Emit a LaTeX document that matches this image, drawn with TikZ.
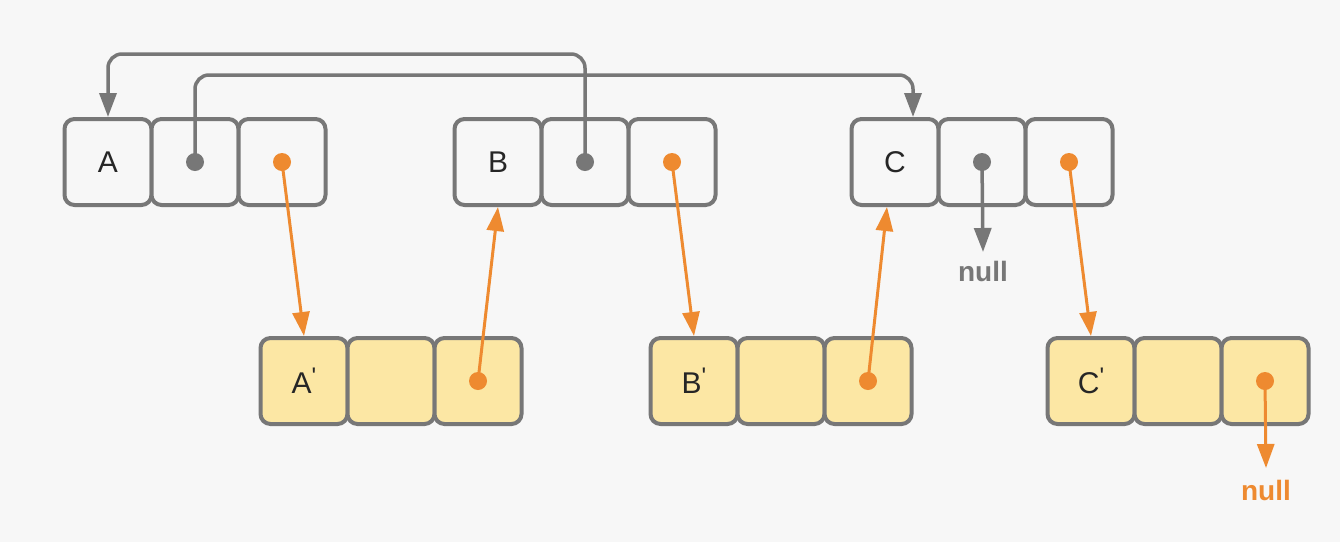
\documentclass[tikz,border=0pt]{standalone}
\usepackage{fontspec}
\setmainfont{Liberation Sans}
\usetikzlibrary{arrows.meta}
\definecolor{bg}{HTML}{F7F7F7}
\definecolor{edge}{HTML}{777777}
\definecolor{org}{HTML}{EE8A30}
\definecolor{yel}{HTML}{FCE7A4}
\newcommand{\pr}{\raisebox{0.30em}{\fontsize{24}{24}\selectfont\textquotesingle}}
\begin{document}
\begin{tikzpicture}[x=1pt,y=-1pt,
  cell/.style={draw=edge, line width=4pt, rounded corners=10pt, minimum width=87pt, minimum height=86pt, inner sep=0pt, font=\fontsize{30}{30}\selectfont, text=black!85},
  topcell/.style={cell, fill=bg},
  botcell/.style={cell, fill=yel},
  gline/.style={draw=edge, line width=3.5pt, -{Triangle[length=24pt,width=17pt]}, rounded corners=14pt},
  oline/.style={draw=org, line width=3pt, -{Triangle[length=24pt,width=17pt]}},
  gdot/.style={circle, fill=edge, inner sep=0pt, minimum size=18pt},
  odot/.style={circle, fill=org, inner sep=0pt, minimum size=18pt},
  nulltext/.style={font=\fontsize{28}{28}\selectfont\bfseries, anchor=north, inner sep=0pt}]
\fill[bg] (0,0) rectangle (1340,542);
\useasboundingbox (0,0) rectangle (1340,542);
% top row
\node[topcell] (A1) at (108,162) {A};
\node[topcell] (A2) at (195,162) {};
\node[topcell] (A3) at (282,162) {};
\node[topcell] (B1) at (498,162) {B};
\node[topcell] (B2) at (585,162) {};
\node[topcell] (B3) at (672,162) {};
\node[topcell] (C1) at (895,162) {C};
\node[topcell] (C2) at (982,162) {};
\node[topcell] (C3) at (1069,162) {};
% bottom row
\node[botcell] (Ap1) at (304,381) {A\pr};
\node[botcell] (Ap2) at (391,381) {};
\node[botcell] (Ap3) at (478,381) {};
\node[botcell] (Bp1) at (694,381) {B\pr};
\node[botcell] (Bp2) at (781,381) {};
\node[botcell] (Bp3) at (868,381) {};
\node[botcell] (Cp1) at (1091,381) {C\pr};
\node[botcell] (Cp2) at (1178,381) {};
\node[botcell] (Cp3) at (1265,381) {};
% dots
\node[gdot] (A2d) at (A2.center) {};
\node[gdot] (B2d) at (B2.center) {};
\node[gdot] (C2d) at (C2.center) {};
\node[odot] (A3d) at (A3.center) {};
\node[odot] (B3d) at (B3.center) {};
\node[odot] (C3d) at (C3.center) {};
\node[odot] (Ap3d) at (Ap3.center) {};
\node[odot] (Bp3d) at (Bp3.center) {};
\node[odot] (Cp3d) at (Cp3.center) {};
% null labels
\node[nulltext, text=edge] (n1) at (983,261) {null};
\node[nulltext, text=org] (n2) at (1266,480) {null};
% helper coordinates
\coordinate (top1) at (0,54);
\coordinate (top2) at (0,75);
\coordinate (Cin) at ([xshift=18pt]C1.north);
\coordinate (Cbot) at ([xshift=-8pt]C1.south);
% gray connectors
\draw[gline] (B2d.center) -- (B2d.center |- top1) -- (A1.north |- top1) -- (A1.north);
\draw[gline] (A2d.center) -- (A2d.center |- top2) -- (Cin |- top2) -- (Cin);
\draw[gline] (C2d.center) -- ([yshift=9pt]n1.north);
% orange connectors
\draw[oline] (A3d.center) -- (Ap1.north);
\draw[oline] (Ap3d.center) -- (B1.south);
\draw[oline] (B3d.center) -- (Bp1.north);
\draw[oline] (Bp3d.center) -- (Cbot);
\draw[oline] (C3d.center) -- (Cp1.north);
\draw[oline] (Cp3d.center) -- ([yshift=12pt]n2.north);
\end{tikzpicture}
\end{document}
